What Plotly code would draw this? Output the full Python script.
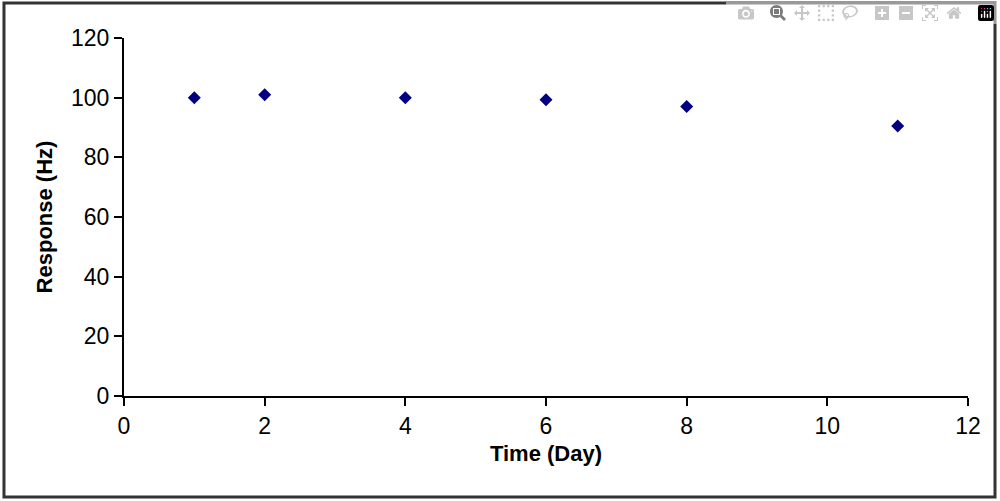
import plotly.graph_objects as go

days = [1, 2, 4, 6, 8, 11]
response = [100, 101, 100, 99.3, 97, 90.5]

fig = go.Figure(go.Scatter(x=days, y=response, mode="markers",
    marker=dict(symbol="diamond", size=10, color="#000080")))

fig.update_layout(
    width=1000, height=501, paper_bgcolor="white", plot_bgcolor="white",
    margin=dict(l=124, r=32, t=38, b=105), showlegend=False,
    font=dict(family="Liberation Sans, Arial", color="black"),
    shapes=[dict(type="rect", xref="paper", yref="paper", x0=-0.1422, x1=1.0320, y0=-0.282, y1=1.098,
                 line=dict(color="#333", width=3))],
)
fig.update_xaxes(range=[0, 12], dtick=2, showline=True, linecolor="black", linewidth=2,
    ticks="outside", ticklen=8, tickwidth=2, tickcolor="black", showgrid=False, zeroline=False,
    tickfont=dict(size=23), title=dict(text="<b>Time (Day)</b>", font=dict(size=22), standoff=8))
fig.update_yaxes(range=[0, 120], dtick=20, showline=True, linecolor="black", linewidth=2,
    ticks="outside", ticklen=8, tickwidth=2, tickcolor="black", showgrid=False, zeroline=False,
    tickfont=dict(size=23), title=dict(text="<b>Response (Hz)</b>", font=dict(size=22), standoff=12))
fig.write_html("out.html", post_script="document.body.style.margin='0';")
